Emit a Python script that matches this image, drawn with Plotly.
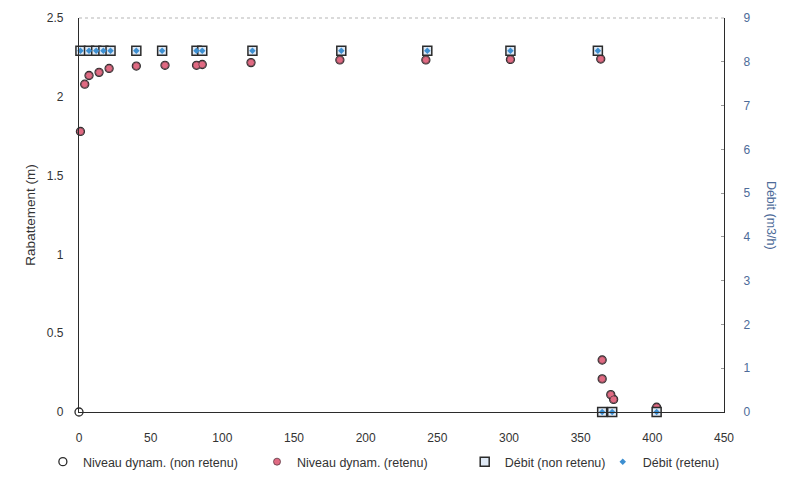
import plotly.graph_objects as go

# ---- data ----
t_niveau = [0, 1, 4, 7, 14, 21, 40, 60, 82, 86, 120, 182, 242, 301, 364, 365, 365, 371, 373, 403]
rabattement = [0.0, 1.78, 2.08, 2.135, 2.155, 2.18, 2.195, 2.2, 2.2, 2.205, 2.217, 2.234, 2.234, 2.237, 2.24,
               0.33, 0.21, 0.11, 0.08, 0.03]

t_debit = [1, 7, 12, 17, 22, 40, 58, 82, 86, 121, 183, 243, 301, 362, 365, 372, 403]
debit = [8.25, 8.25, 8.25, 8.25, 8.25, 8.25, 8.25, 8.25, 8.25, 8.25, 8.25, 8.25, 8.25, 8.25, 0, 0, 0]

x_ticks = [0, 50, 100, 150, 200, 250, 300, 350, 400, 450]

DARK = "#2b2b2b"
PINK = "#e06a82"
BLUE = "#3d8fd1"
RIGHT_COL = "#4d6b99"
FONT = "Liberation Sans, Arial, sans-serif"

fig = go.Figure()

fig.add_trace(go.Scatter(
    x=t_niveau, y=rabattement, mode="markers", name="Niveau dynam. (non retenu)",
    marker=dict(symbol="circle-open", size=8, color=DARK, line=dict(width=1.3, color=DARK)),
    cliponaxis=False, yaxis="y", legend="legend"))
fig.add_trace(go.Scatter(
    x=t_niveau[1:], y=rabattement[1:], mode="markers", name="Niveau dynam. (retenu)",
    marker=dict(symbol="circle", size=7, color=PINK, line=dict(width=0.8, color="#5a3a44")),
    cliponaxis=False, yaxis="y", legend="legend2"))
fig.add_trace(go.Scatter(
    x=t_debit, y=debit, mode="markers", name="Débit (non retenu)",
    marker=dict(symbol="square", size=9, color="#dfe9f5", line=dict(width=1.5, color=DARK)),
    cliponaxis=False, yaxis="y2", legend="legend3"))
fig.add_trace(go.Scatter(
    x=t_debit, y=debit, mode="markers", name="Débit (retenu)",
    marker=dict(symbol="diamond", size=5, color=BLUE, line=dict(width=0)),
    cliponaxis=False, yaxis="y2", legend="legend4"))

leg_common = dict(orientation="h", y=-0.127, yanchor="middle", xanchor="left",
                  font=dict(size=12.5, color="#333333"), itemwidth=30,
                  bgcolor="rgba(0,0,0,0)")

fig.update_layout(
    width=800, height=500,
    paper_bgcolor="white", plot_bgcolor="white",
    margin=dict(l=79, r=76, t=18, b=88),
    font=dict(family=FONT, size=12, color="#333333"),
    showlegend=True,
    legend=dict(leg_common, x=-0.056),
    legend2=dict(leg_common, x=0.276),
    legend3=dict(leg_common, x=0.598),
    legend4=dict(leg_common, x=0.812),
    xaxis=dict(range=[0, 450], tickvals=x_ticks, showgrid=False, zeroline=False,
               showline=True, linecolor=DARK, linewidth=1.2, ticks="", ticklabelstandoff=14,
               tickfont=dict(size=12, color="#333333")),
    yaxis=dict(range=[0, 2.5], dtick=0.5, showgrid=False, zeroline=False,
               showline=True, linecolor=DARK, linewidth=1.2, ticks="", ticklabelstandoff=12,
               title=dict(text="Rabattement (m)", font=dict(size=13.5, color="#333333"), standoff=8),
               tickfont=dict(size=12, color="#333333")),
    yaxis2=dict(range=[0, 9], dtick=1, overlaying="y", side="right", showgrid=False,
                zeroline=False, showline=True, linecolor=DARK, linewidth=1.2,
                ticks="inside", ticklen=3, tickcolor="#999999", ticklabelstandoff=16,
                tickfont=dict(size=12, color=RIGHT_COL)),
    shapes=[dict(type="line", xref="paper", yref="paper", x0=0, x1=1, y0=1, y1=1,
                 line=dict(color="#b5b5b5", width=1, dash="dot"))],
    annotations=[dict(text="Débit (m3/h)", xref="paper", yref="paper", x=1.087, y=0.5,
                      textangle=90, showarrow=False, font=dict(size=12.5, color=RIGHT_COL))],
)

fig.write_html("out.html")
